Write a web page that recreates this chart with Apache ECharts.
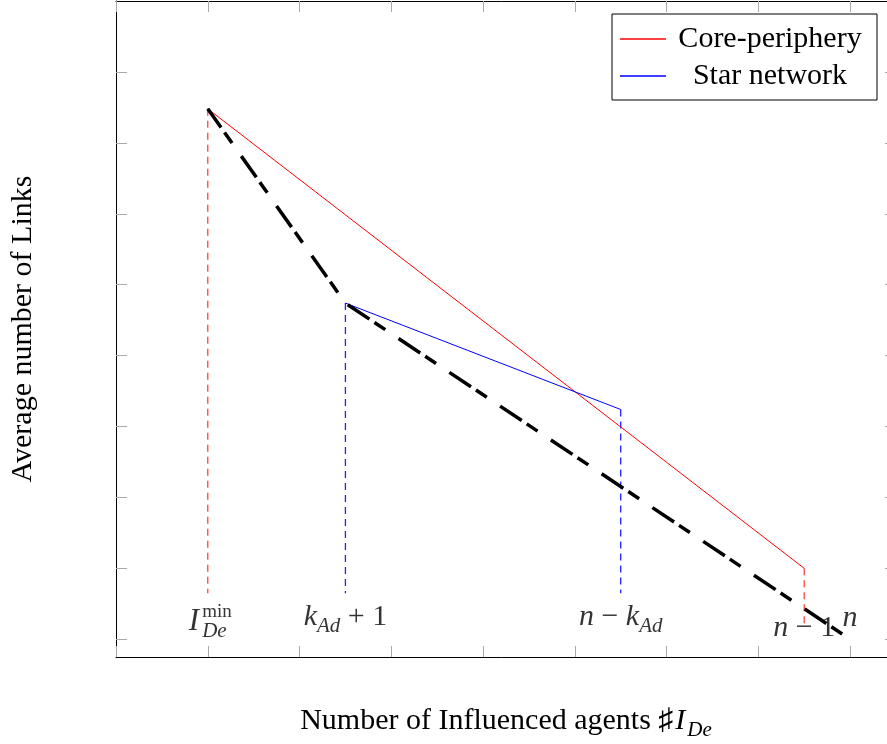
<!DOCTYPE html>
<html>
<head>
<meta charset="utf-8">
<title>Average number of Links</title>
<script src="https://cdn.jsdelivr.net/npm/echarts@6/dist/echarts.min.js"></script>
<style>
  html, body { margin: 0; padding: 0; background: #fff; }
  #chart { width: 887px; height: 744px; }
</style>
</head>
<body>
<div id="chart"></div>
<script>
// series values (x = influenced agents, y = average number of links)
var corePeriphery = [[1, 7.48], [7.5, 1.0]];
var starNetwork = [[2.5, 4.74], [5.5, 3.24]];
var lowerEnvelope = [[1, 7.48], [2.5, 4.74], [8, 0]];

// dashed drop lines from the curves down to the node labels
var redDrops = [[[1, 7.48], [1, 0.65]], [[7.5, 1.0], [7.5, 0.2]]];
var blueDrops = [[[2.5, 4.74], [2.5, 0.65]], [[5.5, 3.24], [5.5, 0.65]]];

// tick values (no tick labels are printed)
var xTicks = [0, 1, 2, 3, 4, 5, 6, 7, 8];
var yTicks = [0, 1, 2, 3, 4, 5, 6, 7, 8];

// math labels placed in the plot
var nodeX = [1, 2.5, 5.5, 7.5, 8];
var nodeY = [0.24, 0.31, 0.31, 0.16, 0.3];
var nodeText = [
  '{I|I}{sup|min}{sub|De}',
  '{m|k}{sub|Ad}{r| + 1}',
  '{m|n}{r| − }{m|k}{sub|Ad}',
  '{m|n}{r| − 1}',
  '{m|n}'
];

var serif = "'Liberation Serif', 'Times New Roman', serif";

// tokens are laid out left to right so the zero-width superscript stacks over the subscript
var mathRich = {
  m: { fontFamily: serif, fontStyle: 'italic', fontSize: 30, lineHeight: 40, verticalAlign: 'middle', align: 'left', color: '#000' },
  r: { fontFamily: serif, fontSize: 30, lineHeight: 40, verticalAlign: 'middle', align: 'left', color: '#000' },
  I: { fontFamily: serif, fontStyle: 'italic', fontSize: 31, lineHeight: 40, verticalAlign: 'middle', align: 'left', color: '#000', padding: [0, 3, 0, 0] },
  sub: { fontFamily: serif, fontStyle: 'italic', fontSize: 21, verticalAlign: 'bottom', align: 'left', color: '#000' },
  sup: { fontFamily: serif, fontSize: 19, verticalAlign: 'top', align: 'left', width: 0, color: '#000' }
};

var nameRich = {
  I: { fontFamily: serif, fontStyle: 'italic', fontSize: 30, lineHeight: 40, verticalAlign: 'middle', color: '#000', padding: [0, 2, 0, 2] },
  sub: { fontFamily: serif, fontStyle: 'italic', fontSize: 21, verticalAlign: 'bottom', color: '#000' }
};

function frameAxis(pos, min, max, ticks) {
  return {
    type: 'value',
    position: pos,
    min: min,
    max: max,
    axisLine: { show: true, onZero: false, lineStyle: { color: '#000', width: 1 } },
    axisTick: { show: true, inside: true, length: 11, customValues: ticks, lineStyle: { color: '#aaa', width: 1 } },
    axisLabel: { show: false },
    splitLine: { show: false }
  };
}

function dropSeries(seg, color) {
  return {
    type: 'line',
    data: seg,
    symbol: 'none',
    silent: true,
    lineStyle: { color: color, width: 1.3, type: [7, 5] },
    z: 1
  };
}

var xBottom = frameAxis('bottom', 0, 8.5, xTicks);
xBottom.name = 'Number of Influenced agents ♯{I|I}{sub|De}';
xBottom.nameLocation = 'middle';
xBottom.nameGap = 44;
xBottom.nameTextStyle = {
  fontFamily: serif, fontSize: 30, lineHeight: 40, color: '#000',
  rich: nameRich
};

var yLeft = frameAxis('left', -0.25, 9, yTicks);
yLeft.name = 'Average number of Links';
yLeft.nameLocation = 'middle';
yLeft.nameGap = 78;
yLeft.nameTextStyle = { fontFamily: serif, fontSize: 30, color: '#000' };

var series = [
  {
    name: 'Core-periphery',
    type: 'line',
    data: corePeriphery,
    symbol: 'none',
    color: '#ff0000',
    lineStyle: { color: '#ff0000', width: 1 },
    z: 3
  },
  {
    name: 'Star network',
    type: 'line',
    data: starNetwork,
    symbol: 'none',
    color: '#0000ff',
    lineStyle: { color: '#0000ff', width: 1 },
    z: 3
  },
  {
    name: 'envelope',
    type: 'line',
    data: lowerEnvelope,
    symbol: 'none',
    lineStyle: { color: '#000', width: 3.5, type: [26, 6, 13, 16], dashOffset: 3 },
    z: 4
  },
  {
    type: 'scatter',
    symbolSize: 0,
    silent: true,
    data: nodeX.map(function (x, i) { return { value: [x, nodeY[i]], name: nodeText[i] }; }),
    label: {
      show: true,
      position: 'inside',
      formatter: function (p) { return p.name; },
      rich: mathRich
    },
    z: 5
  }
];
redDrops.forEach(function (s) { series.push(dropSeries(s, '#ff4040')); });
blueDrops.forEach(function (s) { series.push(dropSeries(s, '#2020ff')); });

var myChart = echarts.init(document.getElementById('chart'));
myChart.setOption({
  animation: false,
  backgroundColor: '#fff',
  // plot frame runs past the right edge of the picture
  grid: { left: 116, top: 1, width: 780, height: 656, outerBoundsMode: 'none', containLabel: false },
  legend: {
    data: ['Core-periphery', 'Star network'],
    orient: 'vertical',
    left: 612,
    top: 14,
    padding: [8, 8, 7, 8],
    itemGap: 3,
    itemWidth: 46,
    itemHeight: 1.5,
    icon: 'rect',
    borderColor: '#000',
    borderWidth: 1,
    selectedMode: false,
    formatter: function (name) { return '{c|' + name + '}'; },
    textStyle: {
      fontFamily: serif, fontSize: 30, lineHeight: 34, color: '#000',
      rich: { c: { fontFamily: serif, fontSize: 30, lineHeight: 34, width: 198, align: 'center', color: '#000' } }
    }
  },
  xAxis: [xBottom, frameAxis('top', 0, 8.5, xTicks)],
  yAxis: [yLeft, frameAxis('right', -0.25, 9, yTicks)],
  series: series
});
window.addEventListener('resize', function () {
  myChart.resize();
});
</script>
</body>
</html>
